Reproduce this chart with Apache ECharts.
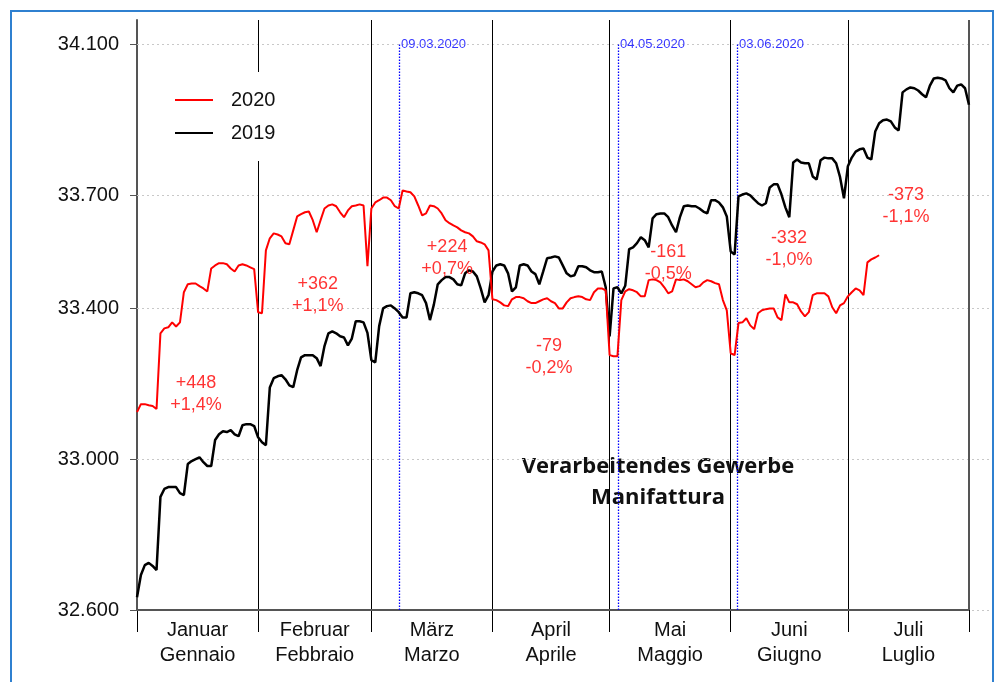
<!DOCTYPE html>
<html>
<head>
<meta charset="utf-8">
<title>Verarbeitendes Gewerbe</title>
<script src="https://cdn.jsdelivr.net/npm/echarts@6/dist/echarts.min.js"></script>
<style>
    html, body { margin: 0; padding: 0; background: #fff; }
    #chart { width: 998px; height: 682px; }
</style>
</head>
<body>
<div id="chart"></div>
<script>
// Tageswerte ab 1. Jänner (Index 0), eine Zeile pro Monat
var values2019 = [
    32634, 32693, 32719, 32725, 32717, 32706, 32900, 32921, 32926, 32926, 32926, 32910, 32905, 32987, 32995, 33000, 33005, 32992, 32982, 32982, 33051, 33066, 33074, 33072, 33077, 33066, 33061, 33090, 33093, 33093, 33088,
    33058, 33045, 33037, 33190, 33215, 33220, 33223, 33212, 33196, 33191, 33236, 33270, 33276, 33276, 33276, 33268, 33247, 33300, 33334, 33339, 33334, 33326, 33323, 33302, 33320, 33366, 33366, 33363, 33335,
    33263, 33257, 33353, 33400, 33406, 33408, 33400, 33390, 33376, 33376, 33440, 33443, 33440, 33435, 33414, 33369, 33410, 33464, 33475, 33483, 33483, 33477, 33464, 33461, 33493, 33501, 33498, 33485, 33453, 33416, 33435,
    33498, 33514, 33517, 33514, 33493, 33445, 33456, 33514, 33517, 33514, 33498, 33491, 33464, 33498, 33533, 33535, 33538, 33535, 33514, 33493, 33485, 33488, 33512, 33512, 33509, 33501, 33496, 33496, 33498, 33456,
    33326, 33453, 33456, 33440, 33460, 33557, 33562, 33573, 33589, 33581, 33562, 33639, 33650, 33652, 33652, 33642, 33620, 33602, 33642, 33671, 33673, 33671, 33671, 33665, 33657, 33652, 33687, 33687, 33681, 33668, 33644,
    33551, 33543, 33697, 33702, 33705, 33700, 33689, 33679, 33673, 33679, 33721, 33729, 33729, 33702, 33668, 33642, 33787, 33795, 33787, 33785, 33785, 33750, 33742, 33793, 33800, 33798, 33798, 33785, 33748, 33692,
    33777, 33800, 33816, 33822, 33824, 33800, 33795, 33869, 33891, 33899, 33901, 33896, 33880, 33872, 33973, 33981, 33986, 33984, 33978, 33968, 33960, 33991, 34010, 34012, 34010, 34005, 33984, 33973, 33991, 33994, 33984, 33940
];
var values2020 = [
    33125, 33146, 33146, 33143, 33141, 33133, 33334, 33347, 33350, 33363, 33352, 33363, 33443, 33464, 33466, 33466, 33459, 33453, 33445, 33506, 33514, 33520, 33520, 33517, 33506, 33498, 33514, 33517, 33514, 33509, 33504,
    33390, 33387, 33554, 33586, 33599, 33596, 33591, 33573, 33570, 33607, 33644, 33650, 33655, 33657, 33634, 33602, 33634, 33665, 33673, 33676, 33671, 33655, 33642, 33660, 33671, 33673, 33676, 33673, 33512,
    33665, 33681, 33687, 33694, 33694, 33687, 33671, 33665, 33713, 33710, 33708, 33697, 33673, 33647, 33652, 33673, 33671, 33665, 33652, 33634, 33626, 33620, 33615, 33607, 33602, 33599, 33591, 33578, 33575, 33570, 33554,
    33424, 33422, 33416, 33408, 33406, 33424, 33430, 33430, 33427, 33419, 33414, 33414, 33419, 33424, 33427, 33419, 33414, 33400, 33400, 33416, 33427, 33430, 33432, 33430, 33424, 33422, 33443, 33453, 33453, 33448,
    33276, 33273, 33273, 33422, 33445, 33451, 33448, 33443, 33432, 33432, 33475, 33477, 33475, 33469, 33456, 33440, 33445, 33477, 33475, 33477, 33472, 33464, 33456, 33459, 33469, 33475, 33472, 33467, 33464, 33422, 33395,
    33281, 33276, 33361, 33363, 33374, 33355, 33345, 33387, 33395, 33398, 33400, 33400, 33376, 33369, 33437, 33416, 33416, 33411, 33392, 33379, 33390, 33435, 33440, 33440, 33440, 33432, 33403, 33387, 33408, 33414,
    33432, 33443, 33453, 33448, 33435, 33522, 33530, 33535, 33541
];

var monthStart = [0, 31, 60, 91, 121, 152, 182, 213];
var monthNames = ['Januar\nGennaio', 'Februar\nFebbraio', 'März\nMarzo', 'April\nAprile', 'Mai\nMaggio', 'Juni\nGiugno', 'Juli\nLuglio'];
var yTicks = [32600, 33000, 33400, 33700, 34100];

// Stichtage (blaue Linien)
var eventLabels = ['09.03.2020', '04.05.2020', '03.06.2020'];
var eventDays = [67.21, 123.27, 153.74];

// Differenzen 2020 zu 2019 je Monat
var noteTexts = ['+448\n+1,4%', '+362\n+1,1%', '+224\n+0,7%', '-79\n-0,2%', '-161\n-0,5%', '-332\n-1,0%', '-373\n-1,1%'];
var noteDays = [15.1, 46.3, 79.4, 105.5, 136, 166.9, 196.9];
var noteValues = [33172, 33435, 33533, 33270, 33520, 33557, 33671];

var FONT = '"Liberation Sans", Arial, sans-serif';

function toPairs(values) {
    return values.map(function (v, i) { return [i, v]; });
}
function fmtThousand(v) {
    return String(v).replace(/(\d)(?=(\d{3})+$)/, '$1.');
}

var monthMid = [];
for (var i = 0; i < monthNames.length; i++) {
    monthMid.push((monthStart[i] + monthStart[i + 1]) / 2);
}

// Linien im Diagramm: Gitter, Monatsgrenzen, Achse unten, Stichtage
var lineData = [];
yTicks.forEach(function (t) {
    lineData.push({ yAxis: t, lineStyle: { color: '#c8c8c8', type: [2, 3], width: 1 } });
});
for (var m = 1; m < monthStart.length - 1; m++) {
    lineData.push({ xAxis: monthStart[m], lineStyle: { color: '#000', type: 'solid', width: 1 } });
}
lineData.push([
    { coord: [monthStart[7], yTicks[0]], lineStyle: { color: '#555', type: 'solid', width: 2 } },
    { coord: [monthStart[7], 34165] }
]);
lineData.push([
    { coord: [0, yTicks[0]], lineStyle: { color: '#555', type: 'solid', width: 2 } },
    { coord: [monthStart[7], yTicks[0]] }
]);
eventDays.forEach(function (d) {
    lineData.push([
        { coord: [d, yTicks[4]], lineStyle: { color: '#0000ff', type: [1.5, 1.5], width: 1.3 } },
        { coord: [d, yTicks[0]] }
    ]);
});

var chart = echarts.init(document.getElementById('chart'), null, { renderer: 'canvas' });

var option = {
    animation: false,
    backgroundColor: '#fff',
    textStyle: { fontFamily: FONT },
    grid: { left: 137, right: 6, top: 20, bottom: 72 },
    legend: {
        data: ['2020', '2019'],
        orient: 'vertical',
        z: 20,
        left: 165,
        top: 72,
        padding: [18, 10, 18, 10],
        backgroundColor: '#fff',
        icon: 'rect',
        itemWidth: 38,
        itemHeight: 2,
        itemGap: 13,
        textStyle: { fontSize: 20, color: '#111', lineHeight: 20, fontFamily: FONT, padding: [0, 0, 0, 13] }
    },
    xAxis: {
        type: 'value',
        min: 0,
        max: 218.9,
        axisLine: { show: false },
        splitLine: { show: false },
        axisTick: {
            show: true,
            customValues: monthStart,
            length: 22,
            lineStyle: { color: '#000', width: 1 }
        },
        axisLabel: {
            customValues: monthMid,
            margin: 8,
            fontSize: 20,
            lineHeight: 25,
            color: '#111',
            fontFamily: FONT,
            formatter: function (v) {
                var idx = monthMid.indexOf(v);
                return idx >= 0 ? monthNames[idx] : '';
            }
        }
    },
    yAxis: {
        type: 'value',
        min: 32600,
        max: 34165,
        axisLine: { show: true, lineStyle: { color: '#555', width: 2 } },
        splitLine: { show: false },
        axisTick: {
            show: true,
            customValues: yTicks,
            length: 7,
            lineStyle: { color: '#555', width: 1 }
        },
        axisLabel: {
            customValues: yTicks,
            margin: 18,
            fontSize: 20,
            color: '#111',
            fontFamily: FONT,
            formatter: fmtThousand
        }
    },
    graphic: [{
        type: 'rect',
        z: 100,
        silent: true,
        shape: { x: 11, y: 11, width: 982, height: 700 },
        style: { fill: 'none', stroke: '#2f80d0', lineWidth: 2 }
    }, {
        type: 'text',
        z: 0,
        x: 658,
        y: 482,
        style: {
            text: 'Verarbeitendes Gewerbe\nManifattura',
            font: 'bold 22px "Open Sans", sans-serif',
            fill: '#111',
            align: 'center',
            verticalAlign: 'middle',
            lineHeight: 31
        }
    }],
    series: [{
        name: 'lines',
        type: 'line',
        data: [],
        z: 1,
        silent: true,
        markLine: {
            silent: true,
            z: 1,
            symbol: 'none',
            label: { show: false },
            data: lineData
        }
    }, {
        name: '2019',
        type: 'line',
        data: toPairs(values2019),
        showSymbol: false,
        z: 3,
        itemStyle: { color: '#000' },
        lineStyle: { color: '#000', width: 2.5 }
    }, {
        name: '2020',
        type: 'line',
        data: toPairs(values2020),
        showSymbol: false,
        z: 4,
        itemStyle: { color: '#ff0000' },
        lineStyle: { color: '#ff0000', width: 2 }
    }, {
        name: 'notes',
        type: 'scatter',
        z: 5,
        silent: true,
        symbolSize: 1,
        itemStyle: { color: 'rgba(0,0,0,0)' },
        data: noteTexts.map(function (t, k) {
            return { name: t, value: [noteDays[k], noteValues[k]] };
        }),
        label: {
            show: true,
            position: 'inside',
            formatter: '{b}',
            color: '#ff0000',
            fontSize: 18,
            lineHeight: 22,
            fontFamily: FONT
        }
    }, {
        name: 'events',
        type: 'scatter',
        z: 5,
        silent: true,
        symbolSize: 1,
        itemStyle: { color: 'rgba(0,0,0,0)' },
        data: eventLabels.map(function (t, k) {
            return { name: t, value: [eventDays[k], yTicks[4]] };
        }),
        label: {
            show: true,
            position: 'right',
            distance: 1,
            formatter: '{b}',
            color: '#0000ff',
            fontSize: 13,
            fontFamily: FONT
        }
    }]
};

chart.setOption(option);
</script>
</body>
</html>
